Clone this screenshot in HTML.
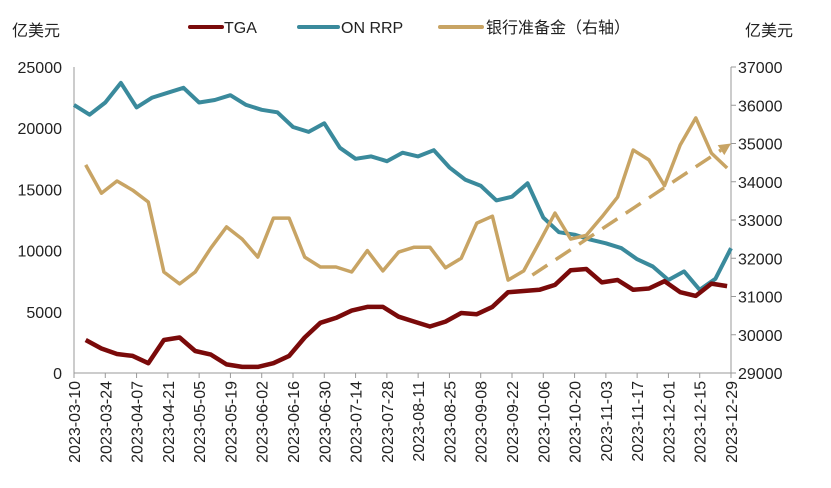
<!DOCTYPE html>
<html><head><meta charset="utf-8"><style>
body{margin:0;background:#fff;}
svg text{font-family:"Liberation Sans","Noto Sans CJK SC",sans-serif;fill:#222;}
</style></head><body>
<svg id="chart" width="831" height="483" xmlns="http://www.w3.org/2000/svg">
<text x="12" y="36" font-size="16">亿美元</text>
<text x="745" y="36" font-size="16">亿美元</text>
<g>
<line x1="190" y1="27" x2="222" y2="27" stroke="#7a0a0a" stroke-width="4" stroke-linecap="round"/>
<text x="224" y="33" font-size="16">TGA</text>
<line x1="299" y1="27" x2="338" y2="27" stroke="#3a8a9c" stroke-width="4" stroke-linecap="round"/>
<text x="341" y="33" font-size="16">ON RRP</text>
<line x1="440" y1="27" x2="482" y2="27" stroke="#c8a464" stroke-width="4" stroke-linecap="round"/>
<text x="486" y="33" font-size="16">银行准备金（右轴）</text>
</g>
<g id="axes"></g><g id="series"></g>
</svg>
<script>
const dates=["2023-03-10","2023-03-17","2023-03-24","2023-03-31","2023-04-07","2023-04-14","2023-04-21","2023-04-28","2023-05-05","2023-05-12","2023-05-19","2023-05-26","2023-06-02","2023-06-09","2023-06-16","2023-06-23","2023-06-30","2023-07-07","2023-07-14","2023-07-21","2023-07-28","2023-08-04","2023-08-11","2023-08-18","2023-08-25","2023-09-01","2023-09-08","2023-09-15","2023-09-22","2023-09-29","2023-10-06","2023-10-13","2023-10-20","2023-10-27","2023-11-03","2023-11-10","2023-11-17","2023-11-24","2023-12-01","2023-12-08","2023-12-15","2023-12-22","2023-12-29"];
const onrrp=[21900,21100,22100,23700,21700,22500,22900,23300,22100,22300,22700,21900,21500,21300,20100,19700,20400,18400,17500,17700,17300,18000,17700,18200,16800,15800,15300,14100,14400,15500,12700,11500,11300,10900,10600,10200,9300,8700,7600,8300,6800,7700,10200];
const tga=[null,2700,2000,1550,1400,800,2700,2900,1800,1500,700,500,500,800,1400,2900,4100,4500,5100,5400,5400,4600,4200,3800,4200,4900,4800,5400,6600,6700,6800,7200,8400,8500,7400,7600,6800,6900,7500,6600,6300,7300,7100];
const reserves=[null,34440,33700,34020,33780,33470,31640,31330,31640,32270,32820,32500,32030,33050,33050,32030,31770,31770,31640,32200,31670,32160,32290,32290,31750,32000,32920,33100,31430,31670,32420,33180,32500,32600,33080,33600,34830,34570,33900,34960,35670,34750,34360];
const leftTicks=[0,5000,10000,15000,20000,25000];
const rightTicks=[29000,30000,31000,32000,33000,34000,35000,36000,37000];
const trendStart=[29.3,31560], trendEnd=[42,35000];
const NS="http://www.w3.org/2000/svg";
const X0=74,X1=731,Y0=373,Y1=67;
const xs=i=>X0+(X1-X0)*i/(dates.length-1);
const yl=v=>Y0-(Y0-Y1)*v/25000;
const yr=v=>Y0-(Y0-Y1)*(v-29000)/8000;
function mk(tag,attrs,parent){const e=document.createElementNS(NS,tag);for(const k in attrs)e.setAttribute(k,attrs[k]);parent.appendChild(e);return e;}
const ax=document.getElementById('axes'),se=document.getElementById('series');
let e=mk('line',{x1:X0,y1:Y1,x2:X0,y2:Y0,stroke:'#999'},ax);


e=mk('line',{x1:X1,y1:Y1,x2:X1,y2:Y0,stroke:'#999'},ax);


e=mk('line',{x1:X0,y1:Y0,x2:X1+2,y2:Y0,stroke:'#999'},ax);


leftTicks.forEach(v=>{const t=mk('text',{x:62,y:yl(v)+6,'text-anchor':'end','font-size':16},ax);t.textContent=v;

});
rightTicks.forEach(v=>{mk('line',{x1:X1,y1:yr(v),x2:X1+5,y2:yr(v),stroke:'#999'},ax);
const t=mk('text',{x:738,y:yr(v)+6,'font-size':16},ax);t.textContent=v;

});
dates.forEach((d,i)=>{if(i%2)return;const x=xs(i);mk('line',{x1:x,y1:Y0,x2:x,y2:Y0+5,stroke:'#999'},ax);
const t=mk('text',{x:0,y:0,'text-anchor':'end','font-size':16,transform:`translate(${x+6},${Y0+8}) rotate(-90)`},ax);t.textContent=d;

});
function line(arr,yf,off,color,w,name){let p='';arr.forEach((v,i)=>{if(v==null)return;p+=(p?'L':'M')+(xs(i-off)).toFixed(1)+','+yf(v).toFixed(1);});
const el=mk('path',{d:p,fill:'none',stroke:color,'stroke-width':w,'stroke-linejoin':'round'},se);

}
line(onrrp,yl,0,'#3a8a9c',4,'onrrp-line');
line(reserves,yr,0.25,'#c8a464',3.5,'reserves-line');
line(tga,yl,0.25,'#7a0a0a',4.5,'tga-line');
const ax1=xs(trendStart[0]),ay1=yr(trendStart[1]),ax2=xs(trendEnd[0]),ay2=yr(trendEnd[1]);
const ang=Math.atan2(ay2-ay1,ax2-ax1),bx=ax2-12*Math.cos(ang),by=ay2-12*Math.sin(ang);
e=mk('line',{x1:ax1,y1:ay1,x2:bx,y2:by,stroke:'#c8a464','stroke-width':3.5,'stroke-dasharray':'18,10'},se);


const px=-Math.sin(ang)*6,py=Math.cos(ang)*6;
e=mk('polygon',{points:`${ax2},${ay2} ${bx+px},${by+py} ${bx-px},${by-py}`,fill:'#c8a464'},se);


</script>
</body></html>
